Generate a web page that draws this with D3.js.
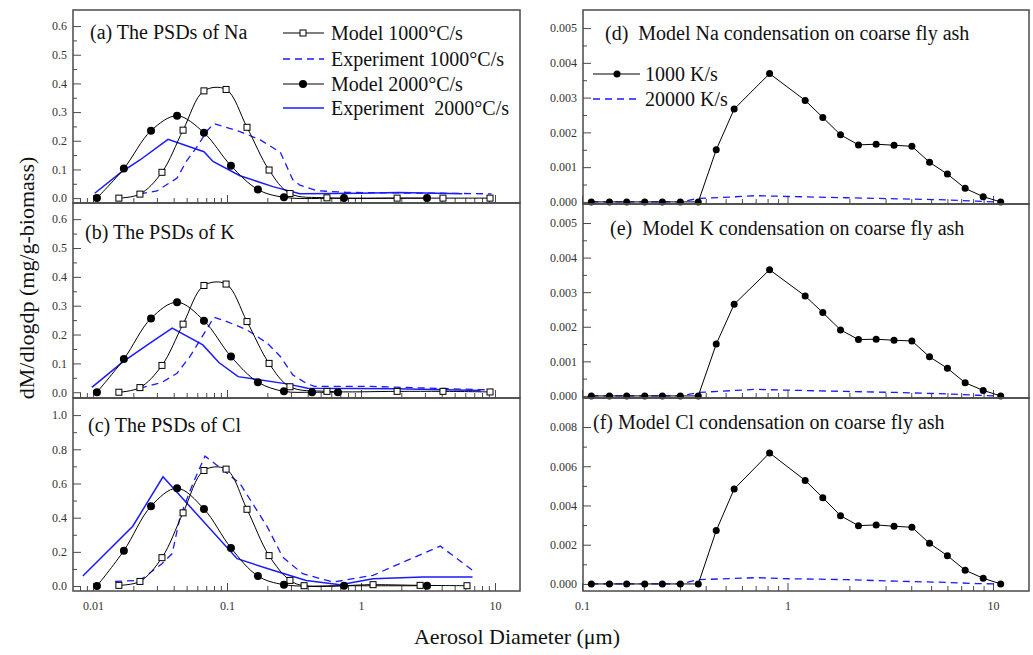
<!DOCTYPE html>
<html>
<head>
<meta charset="utf-8">
<script src="https://cdn.jsdelivr.net/npm/d3@7"></script>
<style>
body { margin: 0; background: #fff; }
text { font-family: "Liberation Serif", "Times New Roman", serif; }
</style>
</head>
<body>
<div class="canva"></div>
<script>
// ---- data ----
// left column: diameters (um) and dM/dlogdp (mg/g-biomass)
const naM1000D = [0.0156, 0.0224, 0.0327, 0.047, 0.0673, 0.0984, 0.141, 0.206, 0.295, 0.557, 1.86, 4.09, 9.18];
const naM1000 = [0, 0.014, 0.09, 0.237, 0.374, 0.379, 0.247, 0.098, 0.016, 0.001, 0, 0, 0];
const naM2000D = [0.0107, 0.017, 0.0271, 0.0424, 0.0673, 0.107, 0.17, 0.266, 0.747, 3.11];
const naM2000 = [0, 0.103, 0.235, 0.287, 0.228, 0.113, 0.030, 0.003, 0, 0];
const naE1000D = [0.0224, 0.03, 0.0424, 0.05, 0.06, 0.071, 0.08, 0.125, 0.177, 0.25, 0.31, 0.35, 0.47, 0.78, 1.9, 4, 9.4];
const naE1000 = [0.015, 0.025, 0.07, 0.13, 0.18, 0.235, 0.26, 0.232, 0.203, 0.16, 0.064, 0.045, 0.026, 0.02, 0.018, 0.017, 0.015];
const naE2000D = [0.0103, 0.0159, 0.0224, 0.0363, 0.0673, 0.0786, 0.125, 0.22, 0.35, 1, 1.9, 5.7];
const naE2000 = [0.017, 0.087, 0.133, 0.205, 0.162, 0.128, 0.078, 0.04, 0.015, 0.017, 0.02, 0.015];

const kM1000D = [0.0156, 0.0224, 0.0327, 0.047, 0.0673, 0.0984, 0.141, 0.206, 0.295, 0.557, 1.86, 4.09, 9.18];
const kM1000 = [0, 0.016, 0.093, 0.236, 0.370, 0.375, 0.245, 0.10, 0.019, 0.003, 0.003, 0.003, 0.001];
const kM2000D = [0.0107, 0.017, 0.0271, 0.0424, 0.0673, 0.107, 0.17, 0.266, 0.431, 0.673];
const kM2000 = [0, 0.115, 0.256, 0.312, 0.248, 0.124, 0.035, 0.003, 0, 0];
const kE1000D = [0.0224, 0.0327, 0.0424, 0.053, 0.08, 0.1, 0.141, 0.2, 0.25, 0.31, 0.39, 0.45, 1.2, 9.4];
const kE1000 = [0.014, 0.034, 0.066, 0.124, 0.26, 0.245, 0.216, 0.17, 0.124, 0.06, 0.031, 0.02, 0.02, 0.008];
const kE2000D = [0.0098, 0.0168, 0.0266, 0.039, 0.066, 0.087, 0.121, 0.28, 0.40, 1.85, 7.8];
const kE2000 = [0.017, 0.106, 0.17, 0.222, 0.164, 0.103, 0.054, 0.029, 0.014, 0.012, 0.006];

const clM1000D = [0.0156, 0.0224, 0.0327, 0.047, 0.0673, 0.0984, 0.141, 0.206, 0.295, 0.376, 1.23, 2.76, 6.18];
const clM1000 = [0.004, 0.027, 0.166, 0.428, 0.676, 0.684, 0.449, 0.178, 0.033, 0.002, 0.008, 0.004, 0.002];
const clM2000D = [0.0107, 0.017, 0.0271, 0.0424, 0.0673, 0.107, 0.17, 0.266, 0.747, 3.11];
const clM2000 = [0, 0.207, 0.467, 0.572, 0.451, 0.223, 0.059, 0.008, 0.002, 0.002];
const clE1000D = [0.0146, 0.0224, 0.0327, 0.039, 0.0446, 0.0557, 0.0685, 0.084, 0.125, 0.156, 0.2, 0.26, 0.367, 0.62, 1.23, 3.9, 6.8];
const clE1000 = [0.027, 0.033, 0.131, 0.19, 0.404, 0.60, 0.76, 0.707, 0.60, 0.48, 0.346, 0.17, 0.072, 0.023, 0.063, 0.234, 0.092];
const clE2000D = [0.0084, 0.0198, 0.0333, 0.119, 0.22, 0.39, 0.70, 1.23, 2.9, 6.8];
const clE2000 = [0.059, 0.35, 0.639, 0.16, 0.092, 0.033, 0.008, 0.043, 0.053, 0.053];

// right column: condensation on coarse fly ash
const rateD = [0.111, 0.136, 0.165, 0.202, 0.246, 0.301, 0.368, 0.450, 0.550, 0.818, 1.219, 1.485, 1.811, 2.215, 2.70, 3.30, 4.03, 4.91, 6.00, 7.32, 8.96, 10.9];
const naRate1000 = [0, 0, 0, 0, 0, 0, 0, 0.0015, 0.00267, 0.00369, 0.00292, 0.00243, 0.00193, 0.00164, 0.00166, 0.00163, 0.0016, 0.00114, 0.0008, 0.00039, 0.00015, 0];
const kRate1000 = [0, 0, 0, 0, 0, 0, 0, 0.0015, 0.00265, 0.00365, 0.00289, 0.00241, 0.00191, 0.00163, 0.00164, 0.00161, 0.00159, 0.00113, 0.0008, 0.00038, 0.00016, 0];
const clRate1000 = [0, 0, 0, 0, 0, 0, 0, 0.00272, 0.00484, 0.00668, 0.00528, 0.0044, 0.00348, 0.00297, 0.00301, 0.00294, 0.00289, 0.00207, 0.00144, 0.0007, 0.00029, 0];
const rate20000D = [0.111, 0.30, 0.368, 0.522, 0.704, 0.948, 1.93, 3.38, 5.92, 8.29, 10.3];
const naRate20000 = [0, 0, 0.0001, 0.00014, 0.00018, 0.00016, 0.00012, 0.00009, 0.00006, 0.00002, 0];
const kRate20000 = [0, 0, 0.0001, 0.00015, 0.00019, 0.00017, 0.00013, 0.0001, 0.00006, 0.00002, 0];
const clRate20000 = [0, 0, 0.00022, 0.00027, 0.00032, 0.00027, 0.00022, 0.00014, 0.00008, 0.00002, 0];

const leftTicks = [0.01, 0.1, 1, 10];
const rightTicks = [0.1, 1, 10];
const legendLeft = ['Model 1000\u00B0C/s', 'Experiment 1000\u00B0C/s', 'Model 2000\u00B0C/s', 'Experiment  2000\u00B0C/s'];
const legendRight = ['1000 K/s', '20000 K/s'];

const blue = '#1a1aff';
const frameColor = '#4a4a4a';

const svg = d3.select('.canva').append('svg')
    .attr('width', 1033)
    .attr('height', 655)

const xLeft = d3.scaleLog().domain([0.01, 10]).range([93, 495]);
const xRight = d3.scaleLog().domain([0.1, 10]).range([582, 993]);

const zip = (d, v) => d.map((x, i) => [x, v[i]]);

const minorLog = (lo, hi) => {
    const out = [];
    for (let e = -3; e <= 1; e++) {
        for (let k = 2; k <= 9; k++) {
            const t = k * Math.pow(10, e);
            if (t >= lo && t <= hi) out.push(t);
        }
    }
    return out;
};

const panels = [
    { x: xLeft, x0: 73, x1: 520, y0: 10, y1: 203, dom: [-0.017, 0.656], step: 0.1, max: 0.6, fmt: '.1f',
      title: '(a) The PSDs of Na', tx: 90, ty: 39, side: 'left',
      m1000: zip(naM1000D, naM1000), m2000: zip(naM2000D, naM2000), e1000: zip(naE1000D, naE1000), e2000: zip(naE2000D, naE2000) },
    { x: xLeft, x0: 73, x1: 520, y0: 203, y1: 398, dom: [-0.02, 0.656], step: 0.1, max: 0.6, fmt: '.1f',
      title: '(b) The PSDs of K', tx: 85, ty: 239, side: 'left',
      m1000: zip(kM1000D, kM1000), m2000: zip(kM2000D, kM2000), e1000: zip(kE1000D, kE1000), e2000: zip(kE2000D, kE2000) },
    { x: xLeft, x0: 73, x1: 520, y0: 398, y1: 591, dom: [-0.029, 1.1], step: 0.2, max: 1.0, fmt: '.1f',
      title: '(c) The PSDs of Cl', tx: 88, ty: 432, side: 'left', labels: true,
      m1000: zip(clM1000D, clM1000), m2000: zip(clM2000D, clM2000), e1000: zip(clE1000D, clE1000), e2000: zip(clE2000D, clE2000) },
    { x: xRight, x0: 583, x1: 1029, y0: 10, y1: 204, dom: [-0.00006, 0.00552], step: 0.001, max: 0.005, fmt: '.3f',
      title: '(d)  Model Na condensation on coarse fly ash', tx: 605, ty: 40, side: 'right',
      r1000: zip(rateD, naRate1000), r20000: zip(rate20000D, naRate20000) },
    { x: xRight, x0: 583, x1: 1029, y0: 204, y1: 398, dom: [-0.00006, 0.00555], step: 0.001, max: 0.005, fmt: '.3f',
      title: '(e)  Model K condensation on coarse fly ash', tx: 610, ty: 235, side: 'right',
      r1000: zip(rateD, kRate1000), r20000: zip(rate20000D, kRate20000) },
    { x: xRight, x0: 583, x1: 1029, y0: 398, y1: 591, dom: [-0.00036, 0.00948], step: 0.002, max: 0.008, fmt: '.3f',
      title: '(f) Model Cl condensation on coarse fly ash', tx: 593, ty: 429, side: 'right', labels: true,
      r1000: zip(rateD, clRate1000), r20000: zip(rate20000D, clRate20000) }
];

const square = (g, pts, x, y) => {
    g.selectAll(null).data(pts).enter().append('rect')
        .attr('x', d => x(d[0]) - 3)
        .attr('y', d => y(d[1]) - 3)
        .attr('width', 6).attr('height', 6)
        .attr('fill', '#fff').attr('stroke', '#000').attr('stroke-width', 1)
};
const dots = (g, pts, x, y, r) => {
    g.selectAll(null).data(pts).enter().append('circle')
        .attr('cx', d => x(d[0]))
        .attr('cy', d => y(d[1]))
        .attr('r', r).attr('fill', '#000')
};

panels.forEach(p => {
    const y = d3.scaleLinear().domain(p.dom).range([p.y1, p.y0]);
    const g = svg.append('g');

    // y axis (ticks point inward)
    const major = d3.range(0, p.max + p.step / 2, p.step);
    const minor = d3.range(p.step / 2, p.max, p.step);
    const yAx = g.append('g').attr('transform', `translate(${p.x0},0)`).attr('color', frameColor)
        .call(d3.axisLeft(y).tickValues(major).tickSize(-8).tickPadding(6).tickFormat(d3.format(p.fmt)));
    g.append('g').attr('transform', `translate(${p.x0},0)`).attr('color', frameColor)
        .call(d3.axisLeft(y).tickValues(minor).tickSize(-4).tickFormat(''));
    yAx.selectAll('text').attr('fill', '#333').style('font-size', '12px');

    // x axis
    const xt = p.side === 'left' ? leftTicks : rightTicks;
    const xm = p.side === 'left' ? minorLog(0.008, 10) : minorLog(0.1, 10);
    const xAx = g.append('g').attr('transform', `translate(0,${p.y1})`).attr('color', frameColor)
        .call(d3.axisBottom(p.x).tickValues(xt).tickSize(-8).tickPadding(10)
            .tickFormat(p.labels ? (d => String(d)) : ''));
    g.append('g').attr('transform', `translate(0,${p.y1})`).attr('color', frameColor)
        .call(d3.axisBottom(p.x).tickValues(xm).tickSize(-5).tickFormat(''));
    xAx.selectAll('text').attr('fill', '#333').style('font-size', '12px');
    g.selectAll('.domain').remove();

    const line = d3.line().x(d => p.x(d[0])).y(d => y(d[1]));
    const smooth = d3.line().x(d => p.x(d[0])).y(d => y(d[1])).curve(d3.curveCatmullRom.alpha(0.5));

    if (p.side === 'left') {
        g.append('path').attr('d', line(p.e1000)).attr('fill', 'none')
            .attr('stroke', blue).attr('stroke-width', 1.3).attr('stroke-dasharray', '7,5');
        g.append('path').attr('d', line(p.e2000)).attr('fill', 'none')
            .attr('stroke', blue).attr('stroke-width', 1.5);
        g.append('path').attr('d', smooth(p.m1000)).attr('fill', 'none')
            .attr('stroke', '#000').attr('stroke-width', 1);
        g.append('path').attr('d', smooth(p.m2000)).attr('fill', 'none')
            .attr('stroke', '#000').attr('stroke-width', 1);
        square(g, p.m1000, p.x, y);
        dots(g, p.m2000, p.x, y, 4);
    } else {
        g.append('path').attr('d', line(p.r20000)).attr('fill', 'none')
            .attr('stroke', blue).attr('stroke-width', 1.3).attr('stroke-dasharray', '7,5');
        g.append('path').attr('d', line(p.r1000)).attr('fill', 'none')
            .attr('stroke', '#000').attr('stroke-width', 1);
        dots(g, p.r1000, p.x, y, 3.5);
    }

    // frame
    g.append('rect')
        .attr('x', p.x0).attr('y', p.y0)
        .attr('width', p.x1 - p.x0).attr('height', p.y1 - p.y0)
        .attr('fill', 'none').attr('stroke', frameColor).attr('stroke-width', 1.5);

    g.append('text')
        .attr('x', p.tx).attr('y', p.ty)
        .style('font-size', '20px').style('white-space', 'pre')
        .attr('fill', '#111')
        .text(p.title);
});

// legend, panel (a)
const legL = svg.append('g');
const rowsL = [33, 59, 84, 108];
legendLeft.forEach((t, i) => {
    const yy = rowsL[i];
    const ln = legL.append('line').attr('x1', 283).attr('x2', 324).attr('y1', yy).attr('y2', yy)
        .attr('stroke', i % 2 ? blue : '#000').attr('stroke-width', i % 2 ? 1.4 : 1);
    if (i === 1) ln.attr('stroke-dasharray', '7,5');
    if (i === 0) legL.append('rect').attr('x', 300).attr('y', yy - 3).attr('width', 6).attr('height', 6)
        .attr('fill', '#fff').attr('stroke', '#000');
    if (i === 2) legL.append('circle').attr('cx', 303).attr('cy', yy).attr('r', 4).attr('fill', '#000');
    legL.append('text').attr('x', 331).attr('y', yy).attr('dy', '0.35em')
        .style('font-size', '20px').style('white-space', 'pre').attr('fill', '#111').text(t);
});

// legend, panel (d)
const legR = svg.append('g');
const rowsR = [74, 99];
legendRight.forEach((t, i) => {
    const yy = rowsR[i];
    const ln = legR.append('line').attr('x1', 593).attr('x2', 640).attr('y1', yy).attr('y2', yy)
        .attr('stroke', i ? blue : '#000').attr('stroke-width', i ? 1.3 : 1);
    if (i) ln.attr('stroke-dasharray', '7,5');
    else legR.append('circle').attr('cx', 617).attr('cy', yy).attr('r', 3.5).attr('fill', '#000');
    legR.append('text').attr('x', 645).attr('y', yy).attr('dy', '0.35em')
        .style('font-size', '20px').attr('fill', '#111').text(t);
});

// axis titles
svg.append('text')
    .attr('transform', 'translate(34,278) rotate(-90)')
    .attr('text-anchor', 'middle')
    .style('font-size', '22px').attr('fill', '#111')
    .text('dM/dlogdp (mg/g-biomass)');

svg.append('text')
    .attr('x', 517).attr('y', 644)
    .attr('text-anchor', 'middle')
    .style('font-size', '22px').attr('fill', '#111')
    .text('Aerosol Diameter (\u03BCm)');
</script>
</body>
</html>
